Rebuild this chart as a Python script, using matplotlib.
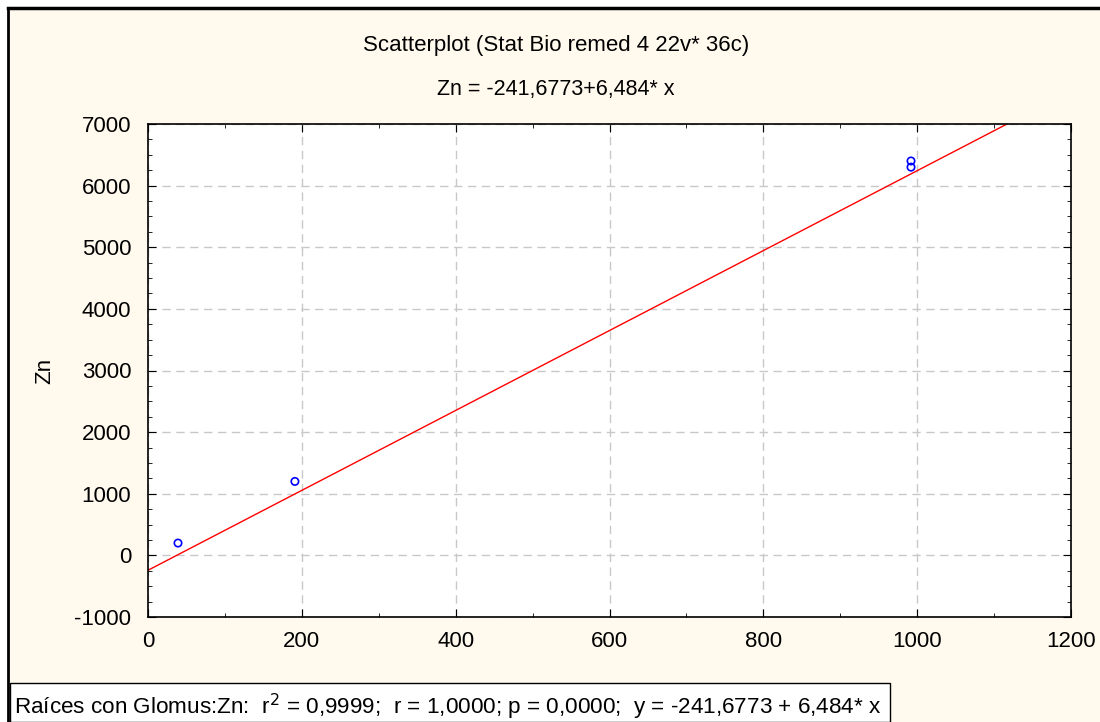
import matplotlib.pyplot as plt
from matplotlib.lines import Line2D
from matplotlib.patches import Rectangle
from matplotlib.ticker import MultipleLocator
import numpy as np

plt.rcParams["font.family"] = ["Liberation Sans", "DejaVu Sans"]
plt.rcParams["axes.unicode_minus"] = False

# -----------------------------
# Data
# -----------------------------
raices_glomus = [39, 191, 992, 992]
zn = [200, 1200, 6400, 6300]
intercept = -241.6773
slope = 6.484

title_lines = ["Scatterplot (Stat Bio remed 4 22v* 36c)", "Zn = -241,6773+6,484* x"]
stats_text = ("Raíces con Glomus:Zn:  r$^2$ = 0,9999;  r = 1,0000; p = 0,0000;  "
              "y = -241,6773 + 6,484* x")

W, H = 1100, 722
fig = plt.figure(figsize=(W / 100, H / 100), dpi=100, facecolor="white")

# cream panel with black frame lines at top and left
fig.patches.append(Rectangle((8 / W, 0), 1, 1 - 8 / H, transform=fig.transFigure,
                             facecolor="#fff9ee", edgecolor="none", zorder=0))
fig.lines.append(Line2D([8 / W, 1], [1 - 8 / H, 1 - 8 / H], transform=fig.transFigure,
                        color="black", lw=2.5))
fig.lines.append(Line2D([8 / W, 8 / W], [0, 1 - 8 / H], transform=fig.transFigure,
                        color="black", lw=2))

ax = fig.add_axes([148 / W, 1 - 617 / H, (1071 - 148) / W, (617 - 124) / H])
ax.set_zorder(2)
ax.set_facecolor("white")

xs = np.array([0, 1200])
ax.plot(xs, intercept + slope * xs, color="red", lw=1)
ax.scatter(raices_glomus, zn, s=28, facecolors="none", edgecolors="blue", linewidths=1.2,
           zorder=3)

ax.set_xlim(0, 1200)
ax.set_ylim(-1000, 7000)
ax.xaxis.set_major_locator(MultipleLocator(200))
ax.xaxis.set_minor_locator(MultipleLocator(100))
ax.yaxis.set_major_locator(MultipleLocator(1000))
ax.yaxis.set_minor_locator(MultipleLocator(250))
ax.tick_params(which="both", direction="in", top=True, right=True, labelsize=16)
ax.tick_params(which="major", length=6)
ax.tick_params(which="minor", length=3)
ax.tick_params(axis="x", pad=10)
ax.tick_params(axis="y", pad=12)
ax.grid(True, which="major", linestyle=(0, (6, 4)), color="#c8c8c8", lw=1)
for s in ax.spines.values():
    s.set_color("black")
    s.set_linewidth(1.2)

ax.set_ylabel("Zn", fontsize=16, labelpad=14)

fig.text(556 / W, 1 - 45 / H, title_lines[0], ha="center", va="center", fontsize=16)
fig.text(556 / W, 1 - 90 / H, title_lines[1], ha="center", va="center", fontsize=15.5)

# x label, mostly hidden under the stats box
fig.text(590 / W, 1 - 702 / H, "Raíces con Glomus", ha="center", va="center", fontsize=16)

fig.patches.append(Rectangle((10 / W, 0), 880 / W, 39 / H, transform=fig.transFigure,
                             facecolor="white", edgecolor="black", lw=1, zorder=5))
fig.text(14 / W, 1 - 707 / H, stats_text, ha="left", va="center", fontsize=16.2, zorder=6)

fig.savefig("out.png", dpi=100)
